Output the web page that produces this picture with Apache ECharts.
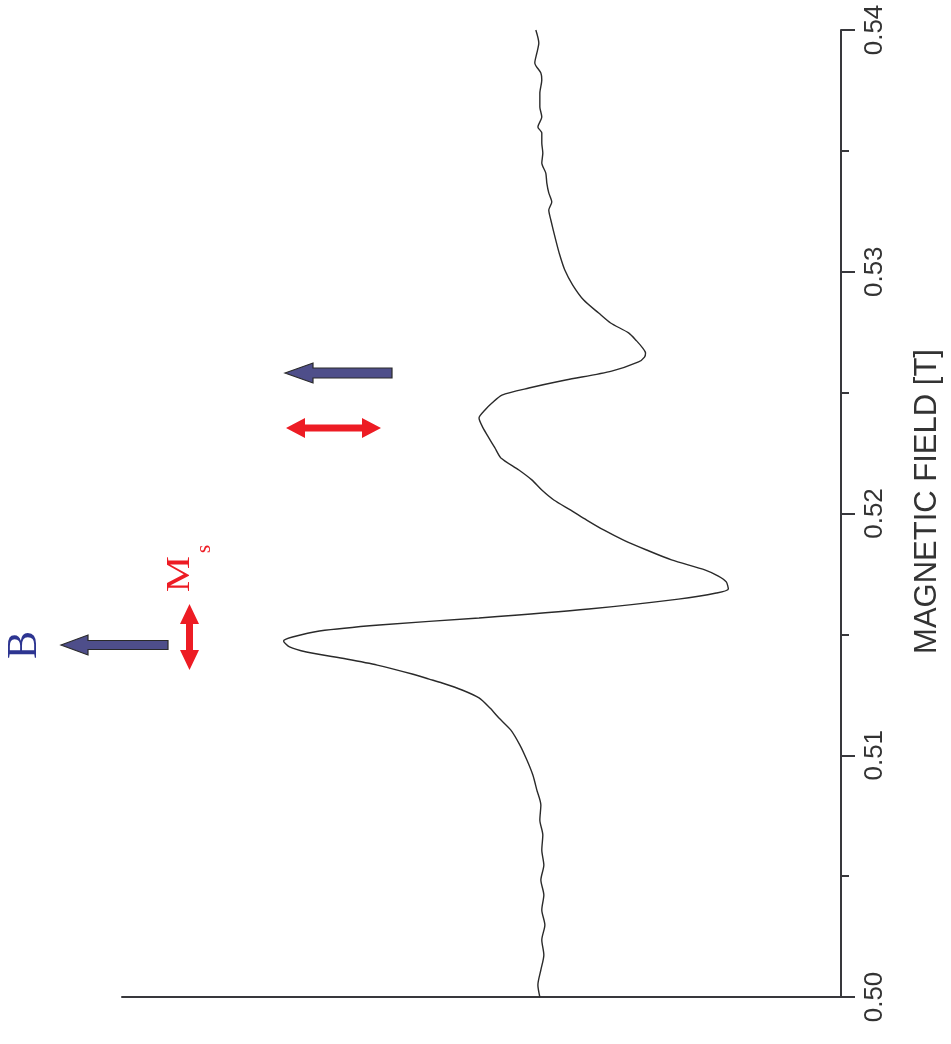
<!DOCTYPE html>
<html>
<head>
<meta charset="utf-8">
<script src="https://cdn.jsdelivr.net/npm/echarts/dist/echarts.min.js"></script>
<style>
html,body{margin:0;padding:0;background:#fff;}
#chart{width:951px;height:1044px;}
</style>
</head>
<body>
<div id="chart"></div>
<script>
// Magnetic field [T] (vertical axis in the picture)
const fieldValues = [
  0.50000, 0.50050, 0.50112, 0.50174, 0.50236, 0.50298, 0.50360, 0.50422, 0.50484, 0.50546,
  0.50608, 0.50670, 0.50732, 0.50794, 0.50856, 0.50918, 0.50980, 0.51042, 0.51104, 0.51154,
  0.51195, 0.51237, 0.51270, 0.51299, 0.51315, 0.51336, 0.51373, 0.51398, 0.51427, 0.51448,
  0.51473, 0.51489, 0.51514, 0.51539, 0.51568, 0.51605, 0.51646, 0.51671, 0.51688, 0.51717,
  0.51741, 0.51766, 0.51808, 0.51849, 0.51890, 0.51932, 0.51973, 0.52014, 0.52056, 0.52097,
  0.52139, 0.52180, 0.52230, 0.52271, 0.52312, 0.52354, 0.52395, 0.52428, 0.52457, 0.52490,
  0.52519, 0.52552, 0.52589, 0.52627, 0.52647, 0.52664, 0.52685, 0.52714, 0.52747, 0.52788,
  0.52829, 0.52883, 0.52945, 0.53007, 0.53069, 0.53131, 0.53214, 0.53255, 0.53289, 0.53326,
  0.53367, 0.53408, 0.53450, 0.53491, 0.53533, 0.53574, 0.53599, 0.53640, 0.53682, 0.53739,
  0.53793, 0.53822, 0.53864, 0.53905, 0.53946, 0.54000
];
// ESR derivative signal (arbitrary units, positive to the left in the picture)
const signalValues = [
  -0.68, -0.49, -0.78, -1.07, -0.87, -1.17, -0.87, -1.07, -0.78, -1.07,
  -0.87, -0.97, -0.68, -0.78, -0.39, 0.00, 0.58, 1.26, 2.14, 3.30,
  4.17, 5.24, 6.89, 8.83, 10.10, 11.75, 15.15, 18.16, 22.04, 23.69,
  24.27, 23.40, 20.78, 14.95, 5.24, -5.44, -14.17, -17.86, -19.03, -18.83,
  -18.06, -16.80, -13.50, -11.07, -8.83, -6.89, -5.24, -3.69, -2.04, -0.87,
  0.10, 1.36, 3.11, 3.69, 4.27, 4.85, 5.24, 4.66, 3.98, 3.01,
  0.39, -3.20, -7.67, -10.29, -10.87, -10.97, -10.68, -10.10, -9.32, -7.57,
  -6.41, -4.95, -3.88, -3.11, -2.62, -2.23, -1.75, -1.55, -1.84, -1.55,
  -1.36, -1.26, -0.87, -0.97, -0.87, -0.87, -0.49, -0.87, -0.68, -0.68,
  -0.87, -0.78, -0.19, -0.39, -0.58, -0.29
];
const fieldTicks = [0.50, 0.51, 0.52, 0.53, 0.54];
const fieldAxisName = 'MAGNETIC FIELD [T]';

const seriesData = fieldValues.map((f, i) => [signalValues[i], f]);

const axisColor = '#38383c';
const red = '#ed1c24';
const blueFill = '#4e4e8a';
const serif = 'Liberation Serif, Times New Roman, serif';

const chart = echarts.init(document.getElementById('chart'));
chart.setOption({
  backgroundColor: '#ffffff',
  animation: false,
  grid: { left: 122, right: 108, top: 30, bottom: 47, containLabel: false },
  xAxis: {
    type: 'value',
    min: -30, max: 40,
    inverse: true,
    axisLine: { show: true, onZero: false, lineStyle: { color: axisColor, width: 2 } },
    axisTick: { show: false },
    axisLabel: { show: false },
    splitLine: { show: false }
  },
  yAxis: {
    type: 'value',
    position: 'right',
    min: fieldTicks[0], max: fieldTicks[fieldTicks.length - 1], interval: 0.01,
    name: fieldAxisName,
    nameLocation: 'middle',
    nameRotate: 90,
    nameGap: 71,
    nameTextStyle: { fontSize: 31, color: '#333333', fontFamily: 'Liberation Sans, Arial, sans-serif', padding: [0, 0, 0, 24] },
    axisLine: { show: true, onZero: false, lineStyle: { color: axisColor, width: 2 } },
    axisTick: { show: true, inside: false, length: 14, lineStyle: { color: axisColor, width: 2 } },
    minorTick: { show: true, splitNumber: 2, length: 8, lineStyle: { color: axisColor, width: 2 } },
    axisLabel: {
      rotate: 90, fontSize: 26, color: '#333333', margin: 21,
      fontFamily: 'Liberation Sans, Arial, sans-serif',
      formatter: v => v.toFixed(2)
    },
    splitLine: { show: false },
    minorSplitLine: { show: false }
  },
  series: [{
    type: 'line',
    data: seriesData,
    showSymbol: false,
    smooth: 0.25,
    lineStyle: { color: '#2a2a2a', width: 1.4 }
  }],
  graphic: [
    { type: 'text', x: 25, y: 645, rotation: Math.PI / 2,
      style: { text: 'B', fontSize: 42, fontFamily: serif, fill: '#2d3591', align: 'center', verticalAlign: 'middle' } },
    { type: 'polygon', shape: { points: [[61,645],[88,635],[88,640.5],[168,640.5],[168,649.5],[88,649.5],[88,655]] },
      style: { fill: blueFill, stroke: '#2a2a2a', lineWidth: 1.2 } },
    { type: 'polygon', shape: { points: [[189.5,604],[199,624],[193,624],[193,650],[199,650],[189.5,670],[180,650],[186,650],[186,624],[180,624]] },
      style: { fill: red } },
    { type: 'text', x: 180, y: 574, rotation: Math.PI / 2, scaleX: 1.2,
      style: { text: 'M', fontSize: 34, fontFamily: serif, fill: red, align: 'center', verticalAlign: 'middle' } },
    { type: 'text', x: 204, y: 549, rotation: Math.PI / 2,
      style: { text: 's', fontSize: 21, fontFamily: serif, fill: red, align: 'center', verticalAlign: 'middle' } },
    { type: 'polygon', shape: { points: [[285,373],[313,363],[313,368],[392,368],[392,378],[313,378],[313,383]] },
      style: { fill: blueFill, stroke: '#2a2a2a', lineWidth: 1.2 } },
    { type: 'polygon', shape: { points: [[286,428],[305,418],[305,424.5],[362,424.5],[362,418],[381,428],[362,438],[362,431.5],[305,431.5],[305,438]] },
      style: { fill: red } }
  ]
});
</script>
</body>
</html>
